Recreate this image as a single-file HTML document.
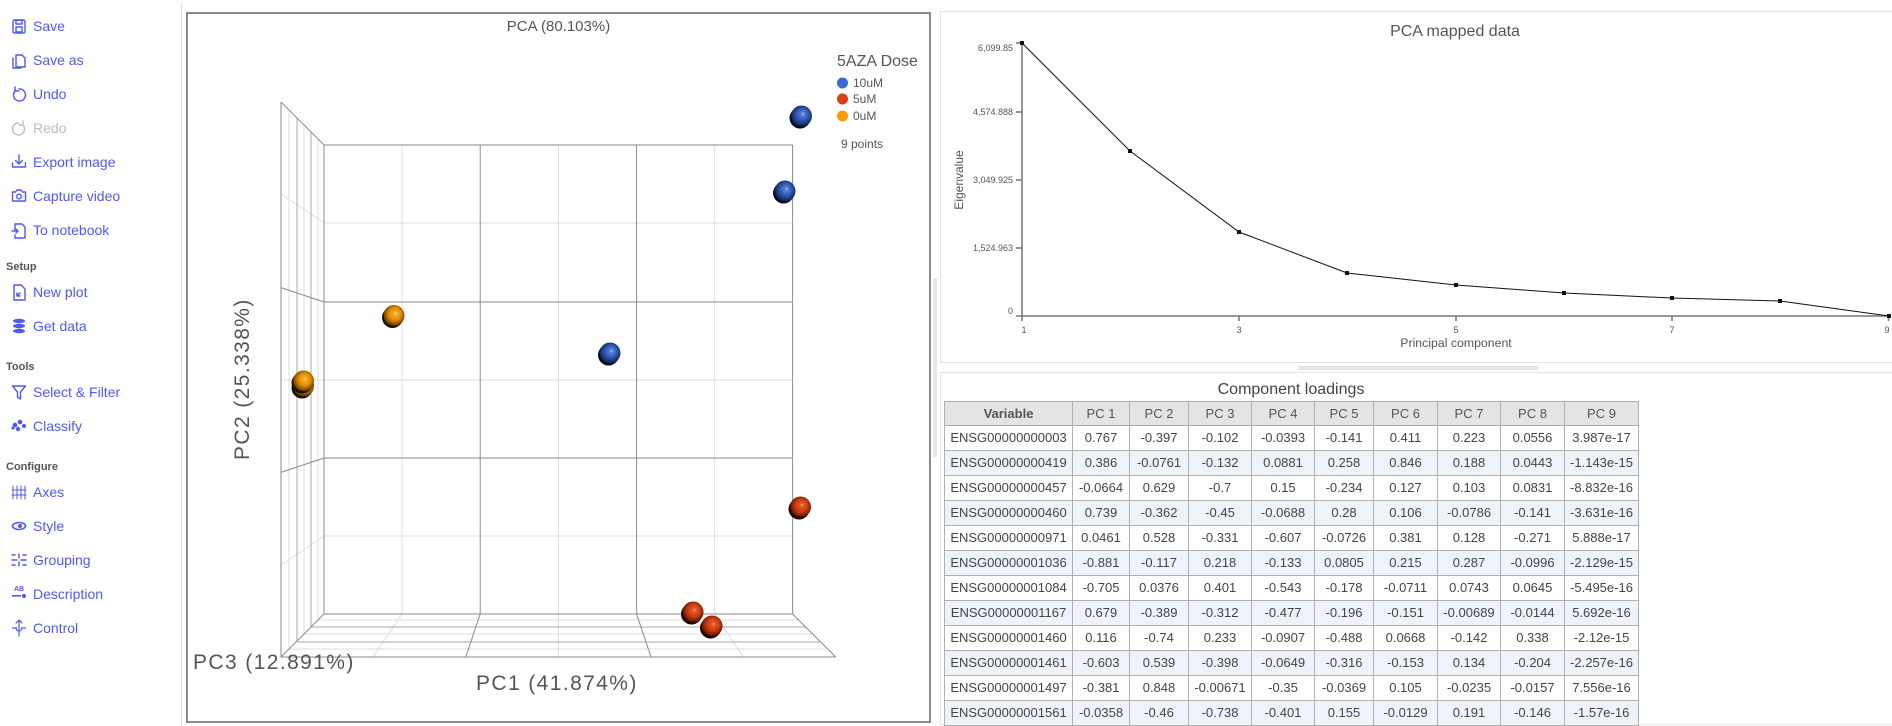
<!DOCTYPE html>
<html><head><meta charset="utf-8">
<style>
html,body{margin:0;padding:0;background:#fff;width:1892px;height:726px;overflow:hidden;}
body{position:relative;font-family:"Liberation Sans",Arial,sans-serif;}
.nav{position:absolute;left:33px;font-size:14px;line-height:16px;color:#5059ef;white-space:nowrap;}
.nav.dis{color:#bdbdbd;}
.sec{position:absolute;left:6px;font-size:11px;line-height:13px;font-weight:bold;color:#555;}
#tw{position:absolute;left:944px;top:401px;width:700px;height:325px;overflow:hidden;}
#tbl{border-collapse:collapse;table-layout:fixed;width:694px;font-size:13px;color:#444;}
#tbl td,#tbl th{border:1px solid #b0b0b0;text-align:center;padding:0;white-space:nowrap;overflow:hidden;height:24px;line-height:16px;}
#tbl th{background:#e4e4e4;color:#555;font-weight:normal;height:23px;}
#tbl th.b{font-weight:bold;}
#tbl tr.a td{background:#eef3fa;}
svg{display:block;}
</style></head>
<body>

<div class="nav" style="top:18px">Save</div>
<div class="nav" style="top:52px">Save as</div>
<div class="nav" style="top:86px">Undo</div>
<div class="nav dis" style="top:120px">Redo</div>
<div class="nav" style="top:154px">Export image</div>
<div class="nav" style="top:188px">Capture video</div>
<div class="nav" style="top:222px">To notebook</div>
<div class="sec" style="top:261px">Setup</div>
<div class="nav" style="top:284px">New plot</div>
<div class="nav" style="top:318px">Get data</div>
<div class="sec" style="top:361px">Tools</div>
<div class="nav" style="top:384px">Select &amp; Filter</div>
<div class="nav" style="top:418px">Classify</div>
<div class="sec" style="top:461px">Configure</div>
<div class="nav" style="top:484px">Axes</div>
<div class="nav" style="top:518px">Style</div>
<div class="nav" style="top:552px">Grouping</div>
<div class="nav" style="top:586px">Description</div>
<div class="nav" style="top:620px">Control</div>

<svg style="position:absolute;left:0;top:0" width="1892" height="726" viewBox="0 0 1892 726">
<defs>
<radialGradient id="gb" cx="0.52" cy="0.45" r="0.55" fx="0.58" fy="0.4">
<stop offset="0" stop-color="#c8d8ff"/><stop offset="0.12" stop-color="#5a82d8"/><stop offset="0.55" stop-color="#2d55b0"/><stop offset="0.85" stop-color="#18306e"/><stop offset="1" stop-color="#0a1838"/></radialGradient>
<radialGradient id="go" cx="0.52" cy="0.45" r="0.55" fx="0.58" fy="0.4">
<stop offset="0" stop-color="#fff0b0"/><stop offset="0.12" stop-color="#f8b030"/><stop offset="0.55" stop-color="#e08a00"/><stop offset="0.85" stop-color="#8a5200"/><stop offset="1" stop-color="#3a2200"/></radialGradient>
<radialGradient id="gr" cx="0.52" cy="0.45" r="0.55" fx="0.58" fy="0.4">
<stop offset="0" stop-color="#ffc8b0"/><stop offset="0.12" stop-color="#e85a30"/><stop offset="0.55" stop-color="#c83c10"/><stop offset="0.85" stop-color="#7a1e00"/><stop offset="1" stop-color="#340a00"/></radialGradient>
</defs>

<g fill="none" stroke="#5059ef" stroke-width="1.4" stroke-linejoin="round" stroke-linecap="round">
 <rect x="13" y="20" width="12" height="13" rx="1.5"/><rect x="16" y="20" width="6" height="4"/><rect x="16" y="27" width="6" height="5"/>
 <path d="M16 55h6l3 3v9h-9z"/><path d="M13 58v10h8"/>
 <path d="M15 91a6 6 0 1 0 4-2"/><path d="M15 87v4h4"/>
 <path d="M19 155v9M15.5 160.5l3.5 3.5 3.5-3.5M12.5 163v4h13v-4"/>
 <path d="M12.5 192h3l1.5-2h4l1.5 2h3v9h-13z"/><circle cx="19" cy="196.5" r="2.3"/>
 <path d="M15 224h7l3 3v11h-10v-3M15 230v-6"/><path d="M12 231h6M16 229l2 2-2 2"/>
 <path d="M14 285h7l4 4v11h-11z"/><path d="M17 296l3-3M17 293v3h3"/>
 <path d="M12.5 386h13l-5 6v7l-3-2v-5z"/>
 <path d="M13 486v13M17 486v13M21 486v13M25 486v13M12 490h14M12 495h14" stroke-width="1"/>
 <path d="M12 560h5M21 560h5M19 554v4M19 562v4M12 555h3M23 565h3M12 565h3M23 555h3" stroke-width="1.4"/>
 <path d="M19 620v16M16 623l3-3 3 3M12.5 628h4M21.5 628h4M16 628a3 3 0 0 0 6 0" stroke-width="1.2"/>
</g>
<g fill="none" stroke="#bdbdbd" stroke-width="1.4" stroke-linecap="round"><path d="M23 125a6 6 0 1 1-4-2"/><path d="M23 121v4h-4"/></g>
<g fill="#5059ef">
 <ellipse cx="19" cy="321" rx="6" ry="2.2"/><ellipse cx="19" cy="326" rx="6" ry="2.2"/><ellipse cx="19" cy="331" rx="6" ry="2.2"/>
 <circle cx="15" cy="425" r="2.3"/><circle cx="20" cy="422" r="2.3"/><circle cx="24" cy="426" r="2"/><circle cx="18" cy="429" r="2.2"/><circle cx="13" cy="428" r="1.6"/>
 <ellipse cx="19" cy="526" rx="6.5" ry="3.5" fill="none" stroke="#5059ef" stroke-width="1.6"/><circle cx="20" cy="526" r="2"/>
 <text x="14" y="591" font-size="7" font-weight="bold" font-family="Liberation Sans">AB</text><rect x="12" y="595" width="9" height="1.6"/><circle cx="24" cy="596" r="2"/>
</g>

<line x1="181.5" y1="3" x2="181.5" y2="726" stroke="#dedede" stroke-width="1"/>

<rect x="187" y="13" width="743" height="709" fill="#fff" stroke="#8a8a8a" stroke-width="2"/>

<g stroke-width="1">
 <g stroke="#dedede">
  <line x1="402" y1="145" x2="402" y2="614"/><line x1="558.4" y1="145" x2="558.4" y2="614"/><line x1="714.7" y1="145" x2="714.7" y2="614"/>
  <line x1="324" y1="223" x2="792.6" y2="223"/><line x1="324" y1="380" x2="792.6" y2="380"/><line x1="324" y1="536" x2="792.6" y2="536"/>
  <line x1="324" y1="223" x2="281" y2="194"/><line x1="324" y1="380" x2="281" y2="380"/><line x1="324" y1="536" x2="281" y2="565"/>
  <line x1="402" y1="614" x2="373" y2="657"/><line x1="558.4" y1="614" x2="558.4" y2="657"/><line x1="714.7" y1="614" x2="743.5" y2="657"/>
  <line x1="318" y1="139" x2="318" y2="620"/><line x1="304" y1="125" x2="304" y2="634"/><line x1="289" y1="110" x2="289" y2="649"/>
  <line x1="318" y1="620" x2="798.6" y2="620"/><line x1="304" y1="634" x2="812.6" y2="634"/><line x1="289" y1="649" x2="827.6" y2="649"/>
 </g>
 <g stroke="#a8a8a8">
  <line x1="311" y1="132" x2="311" y2="627"/><line x1="297" y1="118" x2="297" y2="642"/>
  <line x1="311" y1="627" x2="805.6" y2="627"/><line x1="297" y1="642" x2="819.6" y2="642"/>
 </g>
 <g stroke="#8a8a8a">
  <line x1="324" y1="145" x2="324" y2="614"/><line x1="480.2" y1="145" x2="480.2" y2="614"/><line x1="636.6" y1="145" x2="636.6" y2="614"/><line x1="792.6" y1="145" x2="792.6" y2="614"/>
  <line x1="324" y1="145" x2="792.6" y2="145"/><line x1="324" y1="302" x2="792.6" y2="302"/><line x1="324" y1="458" x2="792.6" y2="458"/><line x1="324" y1="614" x2="792.6" y2="614"/>
  <line x1="324" y1="145" x2="281" y2="102"/><line x1="324" y1="302" x2="281" y2="287.6"/><line x1="324" y1="458" x2="281" y2="472.4"/><line x1="324" y1="614" x2="281" y2="657"/>
  <line x1="281" y1="102" x2="281" y2="657"/>
  <line x1="480.2" y1="614" x2="465.8" y2="657"/><line x1="636.6" y1="614" x2="651" y2="657"/><line x1="792.6" y1="614" x2="835.7" y2="657"/>
  <line x1="281" y1="657" x2="835.7" y2="657"/>
 </g>
</g>

<g>
 <circle cx="302" cy="388" r="10.5" fill="#1a1000"/><circle cx="303.5" cy="386" r="10.5" fill="url(#go)"/>
 <circle cx="302" cy="383" r="10.5" fill="#1a1000"/><circle cx="303.5" cy="381" r="10.5" fill="url(#go)"/>
 <circle cx="392.5" cy="317.5" r="10.5" fill="#1a1000"/><circle cx="394" cy="315.5" r="10.5" fill="url(#go)"/>
 <circle cx="800" cy="118" r="10.5" fill="#050a18"/><circle cx="801.5" cy="116" r="10.5" fill="url(#gb)"/>
 <circle cx="783.5" cy="193" r="10.5" fill="#050a18"/><circle cx="785" cy="191" r="10.5" fill="url(#gb)"/>
 <circle cx="608.5" cy="355" r="10.5" fill="#050a18"/><circle cx="610" cy="353" r="10.5" fill="url(#gb)"/>
 <circle cx="799" cy="509" r="10.5" fill="#1a0500"/><circle cx="800.5" cy="507" r="10.5" fill="url(#gr)"/>
 <circle cx="691.5" cy="614" r="10.5" fill="#1a0500"/><circle cx="693" cy="612" r="10.5" fill="url(#gr)"/>
 <circle cx="710.5" cy="628" r="10.5" fill="#1a0500"/><circle cx="712" cy="626" r="10.5" fill="url(#gr)"/>
</g>

<g font-family="Liberation Sans, Arial, sans-serif" fill="#555">
 <text x="558.5" y="31" font-size="15" text-anchor="middle">PCA (80.103%)</text>
 <text x="837" y="66" font-size="16">5AZA Dose</text>
 <circle cx="842.5" cy="83" r="5.5" fill="#3a6ad4"/><circle cx="842.5" cy="99" r="5.5" fill="#dd3c14"/><circle cx="842.5" cy="116" r="5.5" fill="#ff9a00"/>
 <text x="853" y="87" font-size="12">10uM</text>
 <text x="853" y="103" font-size="12">5uM</text>
 <text x="853" y="120" font-size="12">0uM</text>
 <text x="841" y="148" font-size="12">9 points</text>
 <text x="476" y="690" font-size="21" letter-spacing="1.4">PC1 (41.874%)</text>
 <text x="193" y="669" font-size="21" letter-spacing="1.4">PC3 (12.891%)</text>
 <text transform="translate(249,460) rotate(-90)" font-size="21" letter-spacing="1.4">PC2 (25.338%)</text>
</g>

<rect x="933" y="278" width="4" height="179" fill="#e6e6e6"/>
<rect x="940.5" y="11.5" width="960" height="351" fill="none" stroke="#e2e2e2"/>
<rect x="940.5" y="372.5" width="960" height="352" fill="none" stroke="#e2e2e2"/>
<rect x="1299" y="366" width="239" height="4" fill="#e4e4e4"/>

<g font-family="Liberation Sans, Arial, sans-serif" fill="#555">
 <text x="1455" y="36" font-size="16" text-anchor="middle">PCA mapped data</text>
 <g font-size="9" text-anchor="end">
  <text x="1013" y="51">6,099.85</text>
  <text x="1013" y="115">4,574.888</text>
  <text x="1013" y="183">3,049.925</text>
  <text x="1013" y="251">1,524.963</text>
  <text x="1013" y="314">0</text>
 </g>
 <g font-size="9" text-anchor="middle">
  <text x="1024" y="333">1</text>
  <text x="1239" y="333">3</text>
  <text x="1456" y="333">5</text>
  <text x="1672" y="333">7</text>
  <text x="1887" y="333">9</text>
 </g>
 <text transform="translate(963,180) rotate(-90)" font-size="12" text-anchor="middle">Eigenvalue</text>
 <text x="1456" y="347" font-size="12.3" text-anchor="middle">Principal component</text>
</g>
<g stroke="#777" stroke-width="1.5" fill="none">
 <line x1="1022" y1="43" x2="1022" y2="316"/>
 <line x1="1021" y1="316" x2="1890" y2="316"/>
 <path d="M1016 43h6M1016 112h6M1016 180h6M1016 248h6M1016 316h6"/>
 <path d="M1022 316v5M1239 316v5M1456 316v5M1672 316v5M1888.5 316v5"/>
</g>
<polyline fill="none" stroke="#111" stroke-width="1" points="1022,43 1130,151 1239,232 1347,273 1456,285 1564,293 1672,298 1780,301 1889,316"/>
<g fill="#111">
 <rect x="1020" y="41" width="4" height="4"/><rect x="1128" y="149" width="4" height="4"/><rect x="1237" y="230" width="4" height="4"/>
 <rect x="1345" y="271" width="4" height="4"/><rect x="1454" y="283" width="4" height="4"/><rect x="1562" y="291" width="4" height="4"/>
 <rect x="1670" y="296" width="4" height="4"/><rect x="1778" y="299" width="4" height="4"/><rect x="1887" y="314" width="4" height="4"/>
</g>
<text x="1291" y="394" font-family="Liberation Sans, Arial, sans-serif" font-size="16" fill="#444" text-anchor="middle">Component loadings</text>
</svg>

<div id="tw">
<table id="tbl">
<colgroup><col style="width:128px"><col style="width:57px"><col style="width:59px"><col style="width:63px"><col style="width:63px"><col style="width:59px"><col style="width:64px"><col style="width:63px"><col style="width:64px"><col style="width:74px"></colgroup>
<tr><th class="b">Variable</th><th>PC 1</th><th>PC 2</th><th>PC 3</th><th>PC 4</th><th>PC 5</th><th>PC 6</th><th>PC 7</th><th>PC 8</th><th>PC 9</th></tr>
<tr><td>ENSG00000000003</td><td>0.767</td><td>-0.397</td><td>-0.102</td><td>-0.0393</td><td>-0.141</td><td>0.411</td><td>0.223</td><td>0.0556</td><td>3.987e-17</td></tr>
<tr class="a"><td>ENSG00000000419</td><td>0.386</td><td>-0.0761</td><td>-0.132</td><td>0.0881</td><td>0.258</td><td>0.846</td><td>0.188</td><td>0.0443</td><td>-1.143e-15</td></tr>
<tr><td>ENSG00000000457</td><td>-0.0664</td><td>0.629</td><td>-0.7</td><td>0.15</td><td>-0.234</td><td>0.127</td><td>0.103</td><td>0.0831</td><td>-8.832e-16</td></tr>
<tr class="a"><td>ENSG00000000460</td><td>0.739</td><td>-0.362</td><td>-0.45</td><td>-0.0688</td><td>0.28</td><td>0.106</td><td>-0.0786</td><td>-0.141</td><td>-3.631e-16</td></tr>
<tr><td>ENSG00000000971</td><td>0.0461</td><td>0.528</td><td>-0.331</td><td>-0.607</td><td>-0.0726</td><td>0.381</td><td>0.128</td><td>-0.271</td><td>5.888e-17</td></tr>
<tr class="a"><td>ENSG00000001036</td><td>-0.881</td><td>-0.117</td><td>0.218</td><td>-0.133</td><td>0.0805</td><td>0.215</td><td>0.287</td><td>-0.0996</td><td>-2.129e-15</td></tr>
<tr><td>ENSG00000001084</td><td>-0.705</td><td>0.0376</td><td>0.401</td><td>-0.543</td><td>-0.178</td><td>-0.0711</td><td>0.0743</td><td>0.0645</td><td>-5.495e-16</td></tr>
<tr class="a"><td>ENSG00000001167</td><td>0.679</td><td>-0.389</td><td>-0.312</td><td>-0.477</td><td>-0.196</td><td>-0.151</td><td>-0.00689</td><td>-0.0144</td><td>5.692e-16</td></tr>
<tr><td>ENSG00000001460</td><td>0.116</td><td>-0.74</td><td>0.233</td><td>-0.0907</td><td>-0.488</td><td>0.0668</td><td>-0.142</td><td>0.338</td><td>-2.12e-15</td></tr>
<tr class="a"><td>ENSG00000001461</td><td>-0.603</td><td>0.539</td><td>-0.398</td><td>-0.0649</td><td>-0.316</td><td>-0.153</td><td>0.134</td><td>-0.204</td><td>-2.257e-16</td></tr>
<tr><td>ENSG00000001497</td><td>-0.381</td><td>0.848</td><td>-0.00671</td><td>-0.35</td><td>-0.0369</td><td>0.105</td><td>-0.0235</td><td>-0.0157</td><td>7.556e-16</td></tr>
<tr class="a"><td>ENSG00000001561</td><td>-0.0358</td><td>-0.46</td><td>-0.738</td><td>-0.401</td><td>0.155</td><td>-0.0129</td><td>0.191</td><td>-0.146</td><td>-1.57e-16</td></tr>
</table>
</div>

</body></html>
